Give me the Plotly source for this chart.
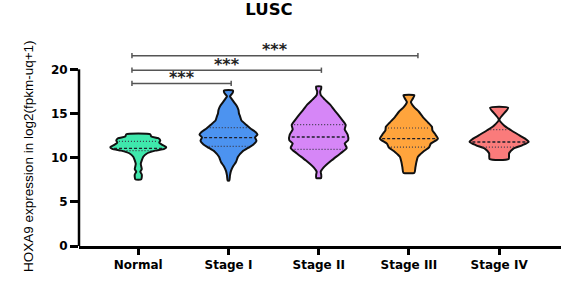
import numpy as np
import plotly.graph_objects as go

# ---------------- data ----------------
CATEGORIES = ["Normal", "Stage I", "Stage II", "Stage III", "Stage IV"]
COLORS = ["#3FE8AC", "#4C93F0", "#D686F7", "#FFA43C", "#FA7B7B"]

# violin outlines: expression levels and relative density (half width)
NORMAL_Y = [7.55, 7.8, 8.1, 8.4, 8.7, 9.0, 9.3, 9.7, 10.1, 10.5, 10.8, 11.0, 11.2, 11.45, 11.7, 11.95, 12.2, 12.4, 12.65]
NORMAL_D = [3, 3.5, 3.5, 2, 3.5, 3, 2.5, 3.5, 5, 9, 17, 26, 28, 24, 21, 22, 20, 13, 12]

STAGE1_Y = [7.4, 8.0, 8.5, 9.0, 9.5, 10.1, 10.7, 11.2, 11.5, 11.9, 12.3, 12.6, 12.9, 13.3, 13.7, 14.2, 14.7, 15.0, 15.4, 15.9, 16.2, 16.6, 16.95, 17.3, 17.6]
STAGE1_D = [0.8, 1.5, 2.5, 4.5, 7.5, 9.5, 14, 21, 25, 28, 26.5, 29, 27, 22, 18, 13, 11.5, 10.5, 10, 8, 6, 3.5, 1.5, 4, 4.5]

STAGE2_Y = [7.7, 8.1, 8.4, 8.9, 9.7, 10.5, 11.1, 11.6, 12.0, 12.6, 13.2, 13.7, 14.2, 14.8, 15.4, 16.0, 16.6, 17.1, 17.5, 17.8, 18.05]
STAGE2_D = [2.5, 2.5, 2, 5, 13, 22, 28, 26, 29.5, 29, 26, 27, 24, 20, 15.5, 11.5, 6, 2, 1.5, 2.5, 2.5]

STAGE3_Y = [8.3, 8.9, 9.5, 10.1, 10.65, 11.15, 11.6, 12.15, 12.7, 13.1, 13.5, 14.0, 14.6, 15.2, 15.75, 16.3, 16.7, 17.05]
STAGE3_D = [5.5, 6.5, 7.5, 9, 14, 20, 22, 29, 26, 23.5, 23, 19, 14, 10, 5, 2, 4, 5.5]

STAGE4_Y = [9.85, 10.5, 11.0, 11.4, 11.8, 12.15, 12.55, 13.1, 13.65, 14.3, 15.65]
STAGE4_D = [9.5, 10, 14, 23, 29.5, 26, 20, 12, 5, 0.3, 9]

PROFILES_Y = [NORMAL_Y, STAGE1_Y, STAGE2_Y, STAGE3_Y, STAGE4_Y]
PROFILES_D = [NORMAL_D, STAGE1_D, STAGE2_D, STAGE3_D, STAGE4_D]

Q1 = [10.8, 11.28, 10.94, 11.2, 11.2]
MEDIAN = [11.05, 12.27, 12.34, 12.15, 11.77]
Q3 = [11.85, 13.4, 13.74, 13.36, 13.17]

# significance brackets: compared groups, bracket height, label
BRACKET_PAIRS = [(0, 1), (0, 2), (0, 3)]
BRACKET_Y = [18.4, 19.9, 21.55]
BRACKET_LABELS = ["***", "***", "***"]

Y_TICKS = [0, 5, 10, 15, 20]

# ---------------- figure ----------------
DENS_SCALE = 1 / 90.2   # density units -> category units

fig = go.Figure()

for i, (ys, ds) in enumerate(zip(PROFILES_Y, PROFILES_D)):
    ys = np.array(ys, dtype=float)
    ds = np.array(ds, dtype=float) * DENS_SCALE
    xs = np.concatenate([i + ds, (i - ds)[::-1], [i + ds[0]]])
    yy = np.concatenate([ys, ys[::-1], [ys[0]]])
    fig.add_trace(go.Scatter(
        x=xs, y=yy, mode="lines", fill="toself",
        fillcolor=COLORS[i],
        line=dict(color="#111111", width=2, shape="spline", smoothing=0.6),
        hoverinfo="skip", showlegend=False))
    # quartile / median lines
    for val, dash, width, col in [(Q1[i], "1px,2px", 1.2, "#3a3a4a"),
                                  (Q3[i], "1px,2px", 1.2, "#3a3a4a"),
                                  (MEDIAN[i], "3px,2px", 1.4, "#1f1f2a")]:
        hw = np.interp(val, ys, ds) - 0.025
        fig.add_trace(go.Scatter(
            x=[i - hw, i + hw], y=[val, val], mode="lines",
            line=dict(color=col, width=width, dash=dash),
            hoverinfo="skip", showlegend=False))

# y axis line (only 0..20)
fig.add_shape(type="line", xref="paper", yref="y", x0=0, x1=0,
              y0=Y_TICKS[0], y1=Y_TICKS[-1],
              line=dict(color="black", width=2.5), layer="above")

# brackets
TICK_H = 0.3
for (a, b), yv, lab in zip(BRACKET_PAIRS, BRACKET_Y, BRACKET_LABELS):
    x0 = a - 0.07
    x1 = b + (0.03 if b < 3 else 0.1)
    lc = dict(color="#555555", width=1.5)
    fig.add_shape(type="line", xref="x", yref="y", x0=x0, x1=x1, y0=yv, y1=yv, line=lc)
    fig.add_shape(type="line", xref="x", yref="y", x0=x0, x1=x0, y0=yv - TICK_H, y1=yv + TICK_H, line=lc)
    fig.add_shape(type="line", xref="x", yref="y", x0=x1, x1=x1, y0=yv - TICK_H, y1=yv + TICK_H, line=lc)
    fig.add_annotation(x=(x0 + x1) / 2, y=yv, xref="x", yref="y", text=f"<b>{lab}</b>",
                       showarrow=False, yanchor="middle", yshift=6,
                       font=dict(family="DejaVu Sans", size=16, color="#222222"))

# y-axis title
fig.add_annotation(x=-0.106, y=0.4245, xref="paper", yref="paper",
                   text="HOXA9 expression in log2(fpkm-uq+1)", textangle=-90,
                   showarrow=False, xanchor="center", yanchor="middle",
                   font=dict(family="Liberation Sans, Arial", size=13.5, color="black"))

fig.update_layout(
    width=561, height=296,
    margin=dict(l=79, r=0, t=34, b=50),
    paper_bgcolor="white", plot_bgcolor="white",
    title=dict(text="<b>LUSC</b>", x=269 / 561, xref="container", xanchor="center",
               y=1 - 9.5 / 296, yref="container", yanchor="middle",
               font=dict(family="DejaVu Sans", size=16.5, color="black")),
    xaxis=dict(range=[-0.657, 4.686], tickvals=list(range(len(CATEGORIES))),
               ticktext=[f"<b>{c}</b>" for c in CATEGORIES],
               showline=True, linecolor="black", linewidth=2.5,
               ticks="outside", ticklen=6, tickwidth=2.5, tickcolor="black",
               showgrid=False, zeroline=False,
               tickfont=dict(family="DejaVu Sans", size=12, color="black")),
    yaxis=dict(range=[0, 24], tickvals=Y_TICKS,
               ticktext=[f"<b>{t}</b>" for t in Y_TICKS],
               showline=False, ticks="outside", ticklen=8, tickwidth=2.5,
               tickcolor="black", showgrid=False, zeroline=False,
               tickfont=dict(family="DejaVu Sans", size=12, color="black")),
)

fig.write_html("out.html", config={"displayModeBar": False},
               post_script="document.body.style.margin='0';")
